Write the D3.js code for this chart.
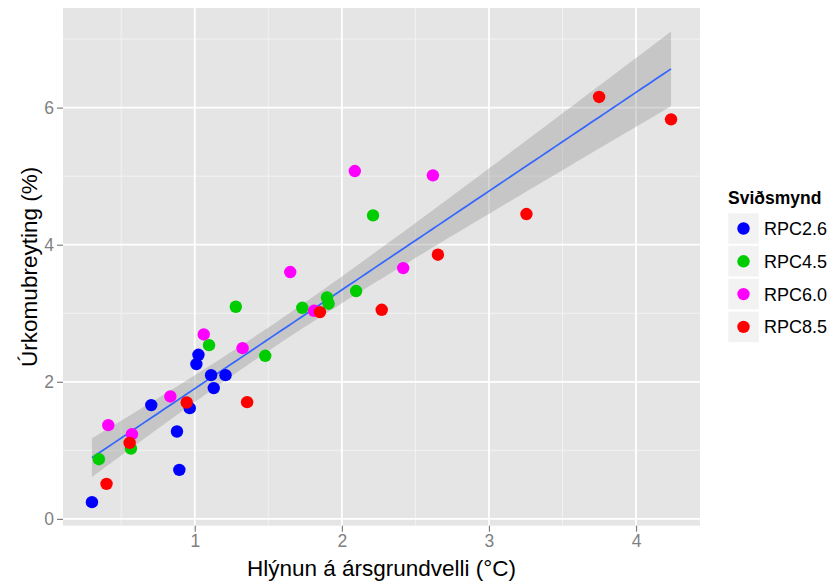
<!DOCTYPE html>
<html><head><meta charset="utf-8">
<script src="https://cdn.jsdelivr.net/npm/d3@7"></script>
<style>body{margin:0;background:#fff;} text{font-family:"Liberation Sans",Arial,Helvetica,sans-serif;}</style>
</head><body>
<svg id="c" width="838" height="583"></svg>
<script>
const scenarios = ["RPC2.6","RPC4.5","RPC6.0","RPC8.5"];
const colors = ["#0000FF","#00CD00","#FF00FF","#FF0000"];
const xRPC26 = [0.301,0.704,0.879,0.895,0.966,1.011,1.025,1.111,1.129,1.209];
const yRPC26 = [0.244,1.660,1.275,0.715,1.616,2.258,2.394,2.097,1.908,2.097];
const xRPC45 = [0.348,0.566,1.097,1.279,1.479,1.731,1.899,1.910,2.097,2.212];
const yRPC45 = [0.871,1.027,2.535,3.095,2.380,3.080,3.231,3.139,3.324,4.428];
const xRPC60 = [0.412,0.573,0.834,1.061,1.325,1.811,1.649,2.088,2.417,2.619];
const yRPC60 = [1.368,1.236,1.786,2.691,2.491,3.036,3.601,5.075,3.659,5.012];
const xRPC85 = [0.400,0.557,0.945,1.356,1.851,2.271,2.653,3.255,3.749,4.238];
const yRPC85 = [0.511,1.109,1.698,1.703,3.017,3.051,3.854,4.448,6.156,5.829];
const xTicks = [1,2,3,4];
const yTicks = [0,2,4,6];
const xLabel = "Hlýnun á ársgrundvelli (°C)";
const yLabel = "Úrkomubreyting (%)";
const legendTitle = "Sviðsmynd";

const xs = [xRPC26,xRPC45,xRPC60,xRPC85];
const ys = [yRPC26,yRPC45,yRPC60,yRPC85];
const pts = [];
scenarios.forEach((s,i)=>xs[i].forEach((x,j)=>pts.push({s, i, x, y: ys[i][j]})));

// linear model with 95% CI (as geom_smooth(method="lm"))
const n = pts.length;
const mx = d3.mean(pts,d=>d.x), my = d3.mean(pts,d=>d.y);
const sxx = d3.sum(pts,d=>(d.x-mx)**2);
const sxy = d3.sum(pts,d=>(d.x-mx)*(d.y-my));
const b = sxy/sxx, a = my - b*mx;
const s2 = d3.sum(pts,d=>(d.y-a-b*d.x)**2)/(n-2);
const tq = 2.024; // t(0.975, 38)
const [xmin,xmax] = d3.extent(pts,d=>d.x);
const fit = d3.range(0,81).map(k=>{
  const x = xmin + (xmax-xmin)*k/80;
  const yh = a + b*x;
  const se = Math.sqrt(s2*(1/n + (x-mx)**2/sxx));
  return {x, y: yh, lo: yh - tq*se, hi: yh + tq*se};
});

const L=63, T=8, R=700, B=525.7;
const svg = d3.select("#c");
const ylo = Math.min(d3.min(pts,d=>d.y), d3.min(fit,d=>d.lo));
const yhi = Math.max(d3.max(pts,d=>d.y), d3.max(fit,d=>d.hi));
const xe = (xmax-xmin)*0.05, ye=(yhi-ylo)*0.05;
const x = d3.scaleLinear().domain([xmin-xe, xmax+xe]).range([L,R]);
const y = d3.scaleLinear().domain([ylo-ye, yhi+ye]).range([B,T]);

svg.append("rect").attr("x",L).attr("y",T).attr("width",R-L).attr("height",B-T).attr("fill","#E5E5E5");
const g = svg.append("g");
const xMinor = [0.5,1.5,2.5,3.5], yMinor=[1,3,5,7];
g.selectAll(".xm").data(xMinor.filter(v=>x(v)>L&&x(v)<R)).join("line").attr("x1",d=>x(d)).attr("x2",d=>x(d)).attr("y1",T).attr("y2",B).attr("stroke","#F2F2F2").attr("stroke-width",1);
g.selectAll(".ym").data(yMinor.filter(v=>y(v)>T&&y(v)<B)).join("line").attr("y1",d=>y(d)).attr("y2",d=>y(d)).attr("x1",L).attr("x2",R).attr("stroke","#F2F2F2").attr("stroke-width",1);
g.selectAll(".xM").data(xTicks).join("line").attr("x1",d=>x(d)).attr("x2",d=>x(d)).attr("y1",T).attr("y2",B).attr("stroke","#fff").attr("stroke-width",1.8);
g.selectAll(".yM").data(yTicks).join("line").attr("y1",d=>y(d)).attr("y2",d=>y(d)).attr("x1",L).attr("x2",R).attr("stroke","#fff").attr("stroke-width",1.8);

// ribbon
svg.append("path").datum(fit).attr("fill","#999999").attr("fill-opacity",0.4)
  .attr("d",d3.area().x(d=>x(d.x)).y0(d=>y(d.lo)).y1(d=>y(d.hi)));
svg.append("path").datum(fit).attr("fill","none").attr("stroke","#3366FF").attr("stroke-width",1.7)
  .attr("d",d3.line().x(d=>x(d.x)).y(d=>y(d.y)));

svg.append("g").selectAll("circle").data(pts).join("circle")
  .attr("cx",d=>x(d.x)).attr("cy",d=>y(d.y)).attr("r",6.2).attr("fill",d=>colors[d.i]);

// axes
const xAxis = svg.append("g").attr("transform",`translate(0,${B})`)
  .call(d3.axisBottom(x).tickValues(xTicks).tickFormat(d3.format("d")).tickSizeOuter(0).tickSize(6).tickPadding(3));
const yAxis = svg.append("g").attr("transform",`translate(${L},0)`)
  .call(d3.axisLeft(y).tickValues(yTicks).tickFormat(d3.format("d")).tickSizeOuter(0).tickSize(6).tickPadding(3));
[xAxis,yAxis].forEach(ax=>{
  ax.select(".domain").remove();
  ax.selectAll("line").attr("stroke","#7F7F7F").attr("stroke-width",1.2);
  ax.selectAll("text").attr("fill","#7F7F7F").style("font-size","17.5px").style("font-family","'Liberation Sans',Arial,sans-serif");
});

svg.append("text").attr("x",(L+R)/2).attr("y",576).attr("text-anchor","middle")
  .style("font-size","22.5px").attr("fill","#000").text(xLabel);
svg.append("text").attr("transform",`translate(36.5,${(T+B)/2}) rotate(-90)`).attr("text-anchor","middle")
  .style("font-size","22.5px").attr("fill","#000").text(yLabel);

// legend
const lg = svg.append("g");
lg.append("text").attr("x",728).attr("y",204).style("font-size","17.5px").style("font-weight","bold").text(legendTitle);
const keys = lg.selectAll("g.k").data(scenarios).join("g").attr("transform",(d,i)=>`translate(728,${213+i*32.8})`);
keys.append("rect").attr("width",31).attr("height",31).attr("fill","#F2F2F2").attr("stroke","#fff").attr("stroke-width",0.5);
keys.append("circle").attr("cx",15.5).attr("cy",15.5).attr("r",6.2).attr("fill",(d,i)=>colors[i]);
keys.append("text").attr("x",36).attr("y",15.5).attr("dy","0.36em").style("font-size","18px").text(d=>d);
</script>
</body></html>
